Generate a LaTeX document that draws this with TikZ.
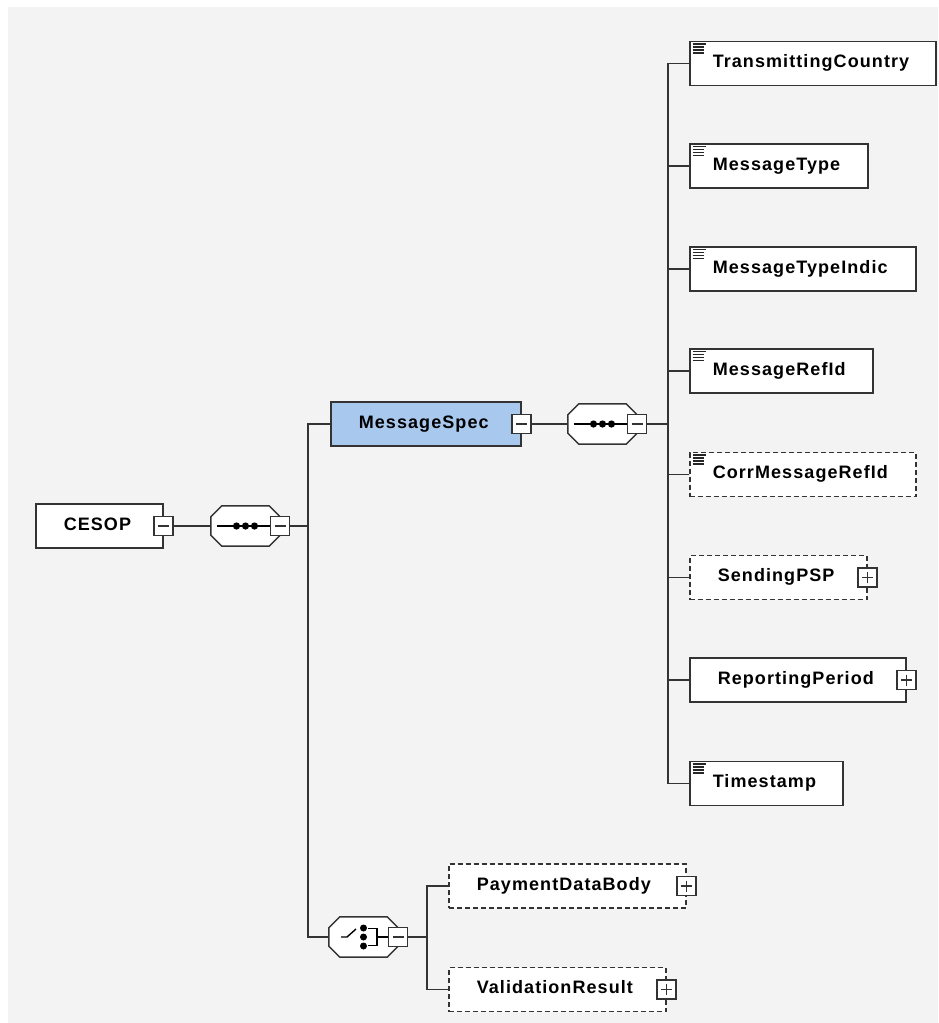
\documentclass[tikz,border=0pt]{standalone}
\usepackage{fontspec}
\newfontfamily\diagfont{Liberation Sans}[LetterSpace=6]
\definecolor{bgpanel}{HTML}{F3F3F3}
\definecolor{edgegray}{HTML}{333333}
\definecolor{specblue}{HTML}{A8C8EE}
\tikzset{
  elem/.style={draw=edgegray, line width=1.5pt, fill=white, anchor=west,
    minimum height=44pt, inner xsep=0pt, inner ysep=0pt, text width=#1pt,
    align=left, text height=13pt, text depth=5pt, text=black,
    font=\diagfont\bfseries\fontsize{18}{20}\selectfont},
  complex/.style={execute at begin node={\hspace*{28pt}}},
  simple/.style={execute at begin node={\hspace*{23pt}}},
  optional/.style={dash pattern=on 5pt off 3pt},
  pmbox/.style={draw=edgegray, line width=1.2pt, fill=white, minimum size=19pt, inner sep=0pt},
  minusbox/.style={pmbox, path picture={
    \draw[edgegray, line width=1.2pt] ([xshift=4pt]path picture bounding box.west) -- ([xshift=-4pt]path picture bounding box.east);}},
  plusbox/.style={pmbox, path picture={
    \draw[edgegray, line width=1.2pt] ([xshift=4pt]path picture bounding box.west) -- ([xshift=-4pt]path picture bounding box.east);
    \draw[edgegray, line width=1.2pt] ([yshift=-4pt]path picture bounding box.north) -- ([yshift=4pt]path picture bounding box.south);}},
  compositor/.style={minimum width=69pt, minimum height=40pt, inner sep=0pt},
  link/.style={draw=edgegray, line width=1.6pt}
}
% octagon frame round a compositor node
\newcommand\octframe[1]{%
  \draw[edgegray, line width=1.5pt, fill=white]
    ([xshift=11pt]#1.north west) -- ([xshift=-11pt]#1.north east) -- ([yshift=-11pt]#1.north east)
    -- ([yshift=11pt]#1.south east) -- ([xshift=-11pt]#1.south east) -- ([xshift=11pt]#1.south west)
    -- ([yshift=11pt]#1.south west) -- ([yshift=-11pt]#1.north west) -- cycle;}
\newcommand\seqmark[1]{%
  \draw[black, line width=1.5pt] ([xshift=6pt]#1.west) -- (#1.east);
  \foreach \dx in {-9,0,9} \fill[black] ([xshift=\dx pt]#1.center) circle (3.6pt);}
\newcommand\choicemark[1]{%
  \draw[black, line width=1.4pt] ([xshift=-22.5pt]#1.center) -- ++(6pt,0pt) -- ++(9pt,8pt);
  \foreach \dy in {-9,0,9} \fill[black] ([yshift=\dy pt]#1.center) circle (3.5pt);
  \draw[black, line width=1.4pt] ([xshift=4.5pt,yshift=8.5pt]#1.center) -- ++(9pt,0pt) -- ++(0pt,-17pt) -- ++(-9pt,0pt);
  \draw[black, line width=1.4pt] ([xshift=13.5pt]#1.center) -- ([xshift=27pt]#1.center);}
\begin{document}
\begin{tikzpicture}[x=1pt, y=-1pt]
\useasboundingbox (0,0) rectangle (938,1023);
\fill[bgpanel] (8,7) rectangle (938,1023);

% root and its sequence
\node[elem=127, complex] (cesop) at (35,526) {CESOP};
\node[minusbox] (cesopm) at (cesop.east) {};
\node[compositor] (seq1) at (245.5,526) {};
\octframe{seq1}
\seqmark{seq1}
\node[minusbox] (seq1m) at (seq1.east) {};
\coordinate (trunk1) at (308,526);

% MessageSpec branch
\node[elem=190, complex, fill=specblue] (spec) at (330,424) {MessageSpec};
\node[minusbox] (specm) at (spec.east) {};
\node[compositor] (seq2) at (602.5,424) {};
\octframe{seq2}
\seqmark{seq2}
\node[minusbox] (seq2m) at (seq2.east) {};
\coordinate (trunk2) at (668,424);

\node[elem=246, simple] (tc) at (689,63.5) {TransmittingCountry};
\node[elem=178, simple] (mt) at (689,166) {MessageType};
\node[elem=226, simple] (mti) at (689,269) {MessageTypeIndic};
\node[elem=183, simple] (mri) at (689,371) {MessageRefId};
\node[elem=226, simple, optional] (cmri) at (689,474.5) {CorrMessageRefId};
\node[elem=177, complex, optional] (psp) at (689,577.5) {SendingPSP};
\node[plusbox] (pspp) at (psp.east) {};
\node[elem=216, complex] (rp) at (689,680) {ReportingPeriod};
\node[plusbox] (rpp) at (rp.east) {};
\node[elem=153, simple] (ts) at (689,783.5) {Timestamp};

% choice branch
\node[compositor] (choice) at (363.5,937) {};
\octframe{choice}
\choicemark{choice}
\node[minusbox] (choicem) at (choice.east) {};
\coordinate (trunk3) at (427,937);
\node[elem=237, complex, optional] (pdb) at (448,886) {PaymentDataBody};
\node[plusbox] (pdbp) at (pdb.east) {};
\node[elem=217, complex, optional] (vr) at (448,989.5) {ValidationResult};
\node[plusbox] (vrp) at (vr.east) {};

% simple type marks
\foreach \n in {tc,mt,mti,mri,cmri,ts}
  \foreach \k/\len in {0/13,1/11,2/11,3/11}
    \draw[black!85, line width=1.5pt] ([xshift=3.5pt, yshift=-3-3*\k]\n.north west) -- ++(\len,0);

% connectors
\draw[link] (cesopm.east) -- (seq1.west);
\draw[link] (seq1m.east) -- (trunk1);
\draw[link] (spec.west) -| (trunk1) |- (choice.west);
\draw[link] (specm.east) -- (seq2.west);
\draw[link] (seq2m.east) -- (trunk2);
\draw[link] (tc.west) -| (trunk2) |- (ts.west);
\foreach \n in {mt,mti,mri,cmri,psp,rp}
  \draw[link] (\n.west) -- (trunk2 |- \n.west);
\draw[link] (choicem.east) -- (trunk3);
\draw[link] (pdb.west) -| (trunk3) |- (vr.west);
\end{tikzpicture}
\end{document}
